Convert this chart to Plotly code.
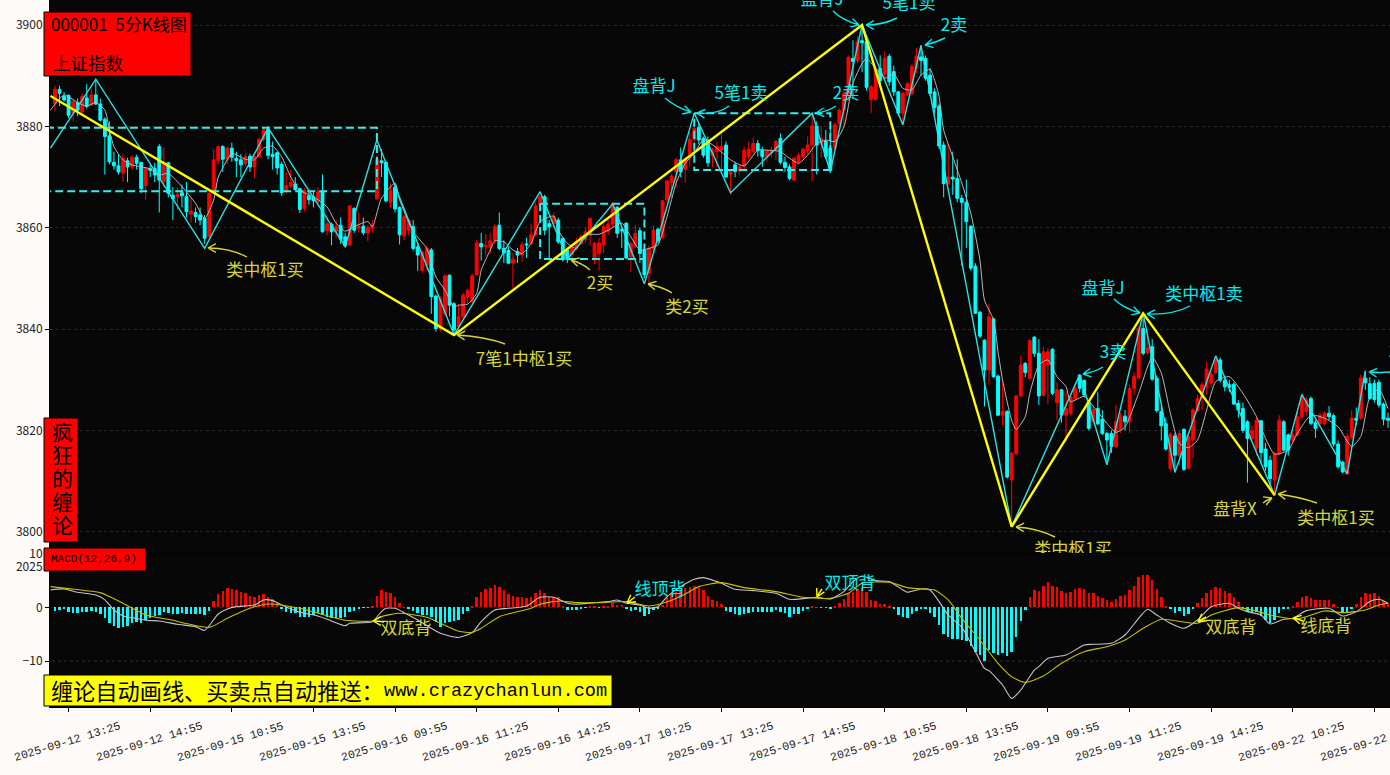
import math
import plotly.graph_objects as go
from plotly.subplots import make_subplots

TITLE_CODE = "000001\u00a0\u00a05分K线图"
TITLE_NAME = "上证指数"
SIDE_LABEL = ["疯", "狂", "的", "缠", "论"]
MACD_LABEL = "MACD(12,26,9)"
PROMO_CN = "缠论自动画线、买卖点自动推送："
PROMO_URL = "www.crazychanlun.com"

TICK_LABELS = ["2025-09-12 13:25","2025-09-12 14:55","2025-09-15 10:55","2025-09-15 13:55","2025-09-16 09:55",
               "2025-09-16 11:25","2025-09-16 14:25","2025-09-17 10:25","2025-09-17 13:25","2025-09-17 14:55",
               "2025-09-18 10:55","2025-09-18 13:55","2025-09-19 09:55","2025-09-19 11:25","2025-09-19 14:25",
               "2025-09-22 10:25","2025-09-22 13:25"]
TICK_BARS = [3,21,39,57,75,93,111,129,147,165,183,201,219,237,255,273,291]

open_ = [
3884.5,3887.3,3885.9,3886.1,3882.7,3884.7,3882.9,3885.6,3884.2,3886.2,
3884.4,3881.4,3878.1,3872.9,3872.2,3870.8,3873.2,3872.0,3873.9,3872.9,
3868.3,3871.7,3871.7,3876.0,3869.1,3872.8,3866.4,3866.1,3866.9,3866.1,
3862.7,3863.0,3862.5,3861.8,3858.2,3867.1,3873.2,3876.0,3873.5,3875.7,
3873.7,3873.4,3872.7,3874.1,3872.0,3874.0,3877.4,3879.4,3874.5,3874.8,
3872.5,3867.3,3868.2,3868.6,3867.7,3863.8,3866.3,3866.1,3865.1,3867.1,
3859.4,3860.7,3859.2,3860.5,3858.2,3856.6,3863.8,3859.9,3860.3,3858.9,
3859.9,3865.7,3873.2,3872.9,3865.0,3868.0,3864.0,3858.4,3859.5,3860.2,
3856.2,3851.6,3852.6,3855.6,3846.5,3840.0,3843.0,3850.6,3845.0,3840.5,
3842.4,3846.4,3845.4,3850.7,3856.9,3856.3,3856.1,3857.5,3860.5,3855.9,
3855.5,3853.0,3855.3,3854.6,3856.8,3856.9,3858.6,3864.5,3866.1,3860.8,
3860.8,3861.5,3857.9,3855.6,3854.6,3855.9,3856.9,3857.6,3858.5,3853.6,
3854.9,3856.6,3859.2,3860.7,3864.0,3859.6,3860.9,3854.2,3856.4,3859.4,
3855.6,3851.0,3855.9,3859.7,3858.1,3865.5,3868.9,3871.0,3873.4,3871.5,
3874.5,3877.4,3879.8,3877.6,3877.3,3874.3,3875.0,3875.3,3876.3,3870.5,
3872.4,3871.2,3872.2,3874.0,3875.0,3876.6,3875.3,3874.0,3874.8,3875.3,
3877.6,3872.9,3872.0,3869.4,3873.0,3874.0,3875.2,3876.3,3880.0,3876.5,
3877.1,3875.7,3875.7,3880.5,3883.2,3886.5,3893.4,3893.0,3896.9,3896.7,
3885.3,3885.3,3891.4,3890.3,3893.8,3890.8,3886.8,3882.6,3886.3,3886.5,
3891.4,3893.7,3893.4,3890.1,3886.8,3884.0,3876.3,3868.7,3870.0,3869.7,
3865.8,3865.0,3860.3,3852.4,3843.3,3837.8,3831.9,3842.0,3830.7,3823.0,
3823.7,3810.2,3815.4,3826.8,3833.2,3830.3,3838.4,3835.2,3826.9,3832.9,
3836.0,3825.5,3828.0,3823.0,3823.4,3826.3,3830.9,3829.9,3825.6,3821.7,
3824.3,3822.2,3819.4,3819.4,3816.8,3820.1,3822.8,3821.7,3828.3,3830.3,
3840.1,3835.3,3836.5,3830.3,3823.7,3821.3,3812.5,3818.9,3815.1,3820.2,
3812.5,3818.1,3823.9,3826.3,3828.6,3829.3,3831.4,3833.9,3829.9,3829.0,
3829.1,3825.3,3824.3,3821.7,3818.4,3816.5,3821.9,3816.3,3814.1,3810.2,
3815.4,3821.7,3819.1,3818.0,3819.1,3822.7,3823.7,3826.3,3821.5,3821.3,
3821.3,3823.4,3822.9,3817.3,3813.7,3811.4,3818.6,3822.4,3822.4,3830.3,
3829.2,3829.3,3829.5,3825.2,3822.4]
high = [
3888.0,3888.0,3886.8,3886.3,3885.2,3885.5,3886.5,3888.3,3887.4,3889.3,
3885.5,3881.8,3881.0,3875.0,3874.5,3874.5,3873.8,3874.3,3874.4,3873.0,
3872.0,3872.5,3872.8,3876.5,3875.8,3873.0,3868.0,3868.0,3868.5,3869.0,
3866.0,3864.0,3864.0,3862.5,3867.2,3875.5,3876.2,3876.3,3876.0,3876.8,
3875.0,3874.5,3874.7,3874.6,3874.5,3877.8,3880.0,3880.0,3877.0,3875.0,
3873.0,3871.0,3871.5,3870.0,3867.9,3867.8,3867.5,3867.0,3868.0,3870.5,
3862.5,3861.0,3861.5,3862.0,3859.0,3864.4,3864.0,3863.0,3862.0,3860.5,
3861.5,3874.3,3875.5,3873.0,3868.8,3868.7,3864.2,3862.5,3861.8,3861.5,
3857.0,3855.5,3856.5,3856.0,3846.8,3846.5,3850.9,3850.8,3845.3,3845.0,
3847.2,3848.0,3851.0,3857.6,3859.0,3858.8,3859.0,3860.8,3863.0,3857.5,
3856.2,3855.0,3856.0,3857.2,3858.0,3860.8,3865.0,3866.5,3866.5,3861.5,
3863.0,3862.0,3858.0,3856.0,3856.5,3858.0,3858.8,3860.0,3862.0,3857.2,
3858.0,3860.8,3861.5,3865.0,3864.3,3860.0,3861.0,3857.2,3860.5,3860.0,
3856.0,3856.5,3860.5,3860.0,3865.5,3869.5,3870.6,3873.8,3875.8,3874.0,
3879.0,3881.0,3880.8,3878.0,3878.0,3875.8,3877.0,3878.5,3877.0,3871.5,
3873.0,3872.5,3876.0,3877.0,3877.8,3877.3,3876.0,3875.5,3876.0,3877.3,
3878.6,3874.0,3872.5,3874.0,3874.8,3875.8,3878.0,3882.4,3881.0,3880.0,
3879.3,3880.0,3880.8,3883.5,3887.0,3894.0,3897.0,3897.8,3899.5,3898.0,
3888.2,3892.0,3894.0,3894.8,3894.3,3892.0,3887.0,3887.0,3888.8,3892.3,
3895.5,3895.8,3894.0,3891.5,3887.5,3884.5,3877.0,3876.5,3875.0,3873.5,
3866.5,3869.5,3860.5,3853.0,3843.6,3838.0,3845.0,3842.2,3831.0,3830.0,
3824.0,3815.7,3827.0,3834.7,3833.5,3838.0,3838.6,3838.0,3836.5,3836.2,
3836.2,3829.5,3828.2,3827.7,3827.0,3829.0,3831.0,3830.0,3826.0,3825.0,
3827.5,3824.0,3819.7,3820.0,3825.0,3823.5,3824.0,3829.0,3831.5,3840.5,
3842.0,3840.0,3838.0,3830.8,3825.0,3822.5,3819.6,3819.5,3819.8,3820.4,
3819.0,3824.4,3827.0,3829.5,3833.5,3831.5,3834.6,3834.4,3830.5,3830.0,
3829.5,3826.0,3825.5,3822.0,3821.0,3822.5,3822.0,3817.5,3815.0,3815.8,
3823.0,3822.0,3819.4,3820.0,3823.5,3827.0,3826.5,3826.7,3822.0,3823.5,
3823.8,3824.8,3823.3,3818.0,3814.0,3819.5,3824.0,3824.5,3831.0,3831.5,
3830.5,3830.0,3830.0,3825.5,3823.5]
low = [
3883.0,3884.0,3884.9,3881.6,3881.0,3882.0,3882.6,3883.5,3884.0,3884.2,
3881.0,3870.5,3872.5,3871.5,3870.5,3869.0,3869.0,3871.5,3871.5,3866.8,
3865.5,3870.0,3869.0,3863.0,3868.0,3866.0,3861.5,3863.5,3864.0,3862.0,
3861.0,3861.0,3860.5,3856.8,3858.0,3866.9,3872.5,3871.0,3872.5,3873.0,
3870.0,3870.0,3872.0,3871.0,3869.8,3873.8,3877.0,3873.5,3871.5,3870.5,
3866.3,3866.7,3867.8,3867.3,3862.9,3863.2,3864.5,3864.0,3864.5,3859.0,
3858.5,3856.5,3858.0,3856.8,3856.0,3856.4,3859.0,3859.0,3858.5,3857.3,
3859.0,3865.5,3870.0,3865.0,3864.0,3863.0,3856.7,3857.5,3858.5,3855.5,
3851.5,3851.0,3851.5,3843.0,3839.5,3839.5,3842.5,3842.5,3839.0,3839.5,
3842.0,3845.0,3845.2,3850.5,3853.5,3854.5,3855.0,3856.8,3855.5,3853.0,
3852.8,3848.0,3853.0,3853.2,3854.0,3856.5,3858.2,3863.0,3858.5,3853.5,
3860.0,3856.8,3853.3,3853.0,3853.5,3855.5,3856.5,3857.0,3856.5,3852.8,
3851.5,3855.0,3858.5,3860.0,3858.0,3856.0,3853.8,3851.3,3856.0,3853.0,
3850.0,3848.8,3855.3,3857.0,3857.8,3865.0,3866.0,3868.0,3870.0,3868.9,
3872.0,3877.0,3876.5,3873.8,3872.0,3872.0,3872.0,3871.6,3869.8,3866.5,
3870.0,3870.5,3871.5,3873.5,3874.5,3874.0,3872.0,3873.0,3873.8,3873.3,
3872.5,3871.0,3869.4,3869.2,3872.5,3873.5,3874.5,3869.2,3870.5,3873.8,
3873.5,3870.8,3875.0,3880.0,3880.0,3885.0,3885.5,3892.5,3890.7,3887.0,
3882.6,3885.0,3888.0,3889.0,3888.0,3886.0,3882.0,3880.5,3886.0,3886.0,
3890.5,3890.0,3889.0,3886.0,3882.5,3875.5,3866.0,3868.5,3866.5,3865.0,
3852.5,3856.0,3851.5,3843.0,3838.2,3824.7,3829.0,3830.3,3822.8,3821.0,
3810.5,3801.3,3815.0,3826.5,3830.5,3830.0,3834.5,3825.0,3826.7,3825.2,
3827.0,3822.0,3821.5,3817.7,3823.0,3826.0,3827.5,3826.5,3820.0,3821.0,
3821.0,3819.1,3813.5,3815.5,3816.5,3819.5,3820.0,3819.5,3827.0,3830.0,
3834.8,3835.0,3829.8,3823.5,3818.0,3816.0,3812.0,3812.0,3813.0,3812.0,
3812.3,3814.5,3823.5,3824.0,3827.0,3828.5,3831.0,3829.5,3827.7,3827.5,
3825.0,3822.5,3819.5,3809.7,3818.0,3815.0,3813.5,3812.0,3809.0,3807.5,
3815.0,3815.8,3815.0,3817.5,3818.8,3822.0,3823.0,3821.0,3818.5,3821.0,
3821.0,3822.0,3816.8,3812.5,3811.5,3811.2,3818.2,3821.0,3822.0,3828.0,
3826.0,3825.5,3824.5,3821.0,3820.5]
close = [
3887.3,3886.5,3885.2,3882.2,3884.9,3883.2,3885.9,3883.9,3886.2,3884.4,
3881.2,3878.0,3873.0,3872.2,3871.0,3873.7,3872.0,3873.9,3872.7,3867.7,
3871.7,3871.3,3870.4,3869.4,3872.9,3866.8,3865.7,3866.6,3866.3,3863.2,
3863.3,3862.2,3861.5,3857.9,3866.8,3873.4,3876.0,3873.5,3875.7,3873.9,
3873.2,3872.4,3874.0,3872.0,3874.0,3877.4,3879.3,3874.3,3874.0,3871.8,
3866.9,3868.3,3868.9,3867.5,3863.6,3867.3,3865.5,3865.3,3867.1,3859.2,
3860.8,3859.2,3860.2,3857.7,3856.4,3864.3,3859.5,3860.2,3859.0,3860.0,
3860.5,3873.5,3872.8,3865.3,3867.4,3863.7,3858.6,3862.2,3861.5,3855.9,
3854.6,3855.1,3855.9,3846.4,3840.1,3846.0,3850.5,3844.7,3839.8,3842.4,
3846.7,3847.6,3850.5,3857.0,3856.2,3856.5,3857.4,3860.2,3855.9,3855.0,
3853.0,3853.8,3854.6,3856.6,3856.6,3858.6,3864.3,3866.1,3859.5,3860.2,
3862.2,3857.2,3853.7,3853.7,3855.9,3857.2,3858.2,3859.2,3861.8,3856.9,
3857.0,3860.2,3860.7,3864.8,3858.9,3859.4,3854.0,3856.9,3858.9,3854.9,
3850.7,3855.9,3859.5,3857.4,3865.3,3869.2,3870.2,3873.4,3871.0,3873.5,
3877.4,3879.6,3877.3,3874.3,3872.8,3875.3,3876.0,3876.0,3870.0,3871.1,
3871.1,3872.0,3875.3,3875.5,3876.6,3875.2,3874.0,3875.1,3875.3,3877.0,
3872.9,3871.9,3869.7,3873.7,3874.3,3875.5,3876.3,3880.1,3876.3,3877.6,
3874.0,3871.3,3880.3,3883.2,3886.5,3893.6,3892.8,3896.7,3896.5,3887.7,
3887.8,3891.4,3889.0,3893.4,3888.8,3886.8,3882.6,3886.5,3888.4,3891.8,
3893.9,3893.0,3889.5,3886.5,3883.7,3876.1,3868.7,3870.0,3869.6,3865.8,
3865.0,3861.2,3852.0,3843.1,3838.6,3831.9,3842.4,3830.6,3823.0,3823.7,
3810.8,3815.5,3826.8,3832.9,3831.4,3837.7,3835.2,3826.8,3835.5,3835.5,
3827.3,3828.0,3823.0,3824.3,3826.6,3828.3,3828.3,3827.0,3820.4,3824.1,
3821.3,3819.4,3818.1,3816.8,3821.7,3822.7,3821.7,3828.2,3830.6,3840.1,
3835.2,3836.3,3830.1,3823.9,3820.9,3816.3,3819.3,3815.1,3819.4,3812.3,
3818.8,3824.0,3826.3,3829.0,3832.1,3831.1,3833.9,3829.9,3828.6,3828.5,
3825.2,3824.0,3820.0,3818.4,3820.0,3822.0,3815.6,3812.8,3810.5,3815.5,
3822.0,3816.1,3816.1,3819.1,3822.7,3826.6,3826.0,3821.4,3820.4,3823.0,
3823.4,3822.7,3817.3,3812.8,3811.8,3818.8,3822.4,3822.0,3830.3,3829.4,
3826.3,3826.1,3825.0,3822.2,3822.0]

ma_bars = [-1,2,5,7,9,11,12,13,15,17,21,23,25,28,31,33,35,36,38,39,42,44,46,48,50,52,54,57,60,62,64,66,69,70,72,75,76,79,82,84,86,88,89,
91,93,94,96,97,99,101,103,105,107,110,111,113,115,117,120,122,125,127,129,132,133,135,137,139,141,143,146,149,152,155,157,160,162,164,166,168,170,172,174,176,178,179,181,183,185,187,189,191,
193,194,195,196,198,200,202,204,205,207,208,209,211,212,214,215,217,219,221,223,224,227,229,232,234,236,239,242,244,246,248,250,252,254,256,259,262,265,267,269,272,274,277,280,283,286,288,290,292,294]
ma_vals = [3883.2,3886.2,3884.7,3884,3884.7,3883.2,3879.3,3876,3873.4,3872.4,3871.6,3870.4,3870.7,3868.1,3864.8,3861.8,3865.5,3870,3873.4,3874.7,3873.5,3873.4,3875.7,3876.1,3874,3870,3867.4,3866.1,3864.1,3860.9,3859.3,3860.2,3861.2,3860.2,3865.8,3868.8,3865.5,3859.2,3855.9,3850.3,3847.7,3844.4,3844.7,
3844.9,3847,3851.6,3855.6,3857.4,3857.2,3855.6,3854.9,3856.9,3861.2,3862.3,3859.5,3856.9,3855.9,3858.6,3858.7,3859.5,3860.9,3858.2,3855.6,3856.2,3856.6,3862.2,3868.8,3872.7,3874.7,3877.3,3875.7,3873.4,3872.2,3875.3,3875.3,3875,3873.7,3872.7,3874.3,3876.6,3877.3,3877,3879.9,3888.5,3892.4,3893.4,3891.4,3889.5,3890.3,3887.5,3887.2,3890.1,
3891.25,3889.1,3885.9,3879.3,3874,3868.8,3862.8,3853.6,3845.7,3841.8,3835.5,3829.9,3822,3820.2,3822.7,3827.3,3832.9,3833.9,3830.6,3828.6,3825.7,3826.7,3824.7,3821.4,3819.6,3820.7,3827.3,3834.4,3831.3,3823.4,3817.4,3816.6,3818.1,3824,3829.6,3830.6,3827.3,3822.7,3818.4,3815.3,3816.1,3819.4,3823,3822.4,3820.7,3816.8,3818.8,3826.6,3828.1,3824.3]

stroke_bars = [-1,9,33,47,64,71,88,107,113,123,130,141,149,167,171,178,187,191,211,226,232,240,247,256,269,275,285,289]
stroke_vals = [3875.7,3889.3,3855.9,3879.7,3856.3,3877.3,3838.8,3867.1,3853.8,3864.7,3848.9,3882.6,3866.9,3882.6,3871.0,3900,3880.3,3896,3801,3831,3813.2,3843.1,3811.7,3834.7,3807.2,3827.1,3811.4,3831.8]
segment_bars = [-1,88,178,211,240,269]
segment_vals = [3886,3838.8,3900,3801,3843.1,3807.2]

box_bars = [(-2,71),(107,130),(141,171)]
box_vals = [(3867.2,3879.7),(3853.8,3864.7),(3871.4,3882.6)]

hist = [
-.62,-.43,-.31,-.87,-.99,-1.12,-.81,-.81,-.62,-.81,-1.24,-1.93,-2.86,-3.42,-3.79,-3.6,-3.48,-2.86,-2.67,-2.86,
-2.36,-2.05,-1.61,-1.43,-.93,-1.12,-1.24,-1.24,-1.12,-1.24,-1.24,-1.24,-1.24,-1.43,-.62,1.18,2.48,3.11,3.6,3.42,
3.23,2.92,2.73,2.17,1.99,2.3,2.48,1.99,1.55,.75,-.37,-.81,-.99,-1.12,-1.86,-1.74,-1.74,-1.43,-1.12,-1.43,
-1.86,-2.05,-2.05,-2.05,-1.86,-.81,-.62,-.25,-.03,-.03,.19,2.17,3.23,2.86,2.73,1.99,.87,.02,-.19,-.62,
-.99,-1.43,-1.49,-1.74,-2.8,-3.73,-2.86,-2.67,-2.48,-2.36,-1.24,-.62,.31,1.99,2.8,3.35,3.66,4.16,3.73,3.23,
2.42,2.11,1.93,1.93,1.74,1.93,2.61,3.23,2.61,1.86,1.86,1.86,.12,-.5,-.5,-.5,-.37,-.12,.31,.12,
-.06,.12,.19,.87,.43,.43,-.19,-.62,-.5,-.87,-1.61,-1.24,-.56,-.19,.43,1.99,2.61,2.92,3.23,3.66,
3.85,3.98,3.66,3.23,2.11,1.37,1.18,.62,-.62,-.93,-1.24,-1.37,-1.24,-.99,-.81,-.81,-.81,-.81,-.81,-.5,
-.81,-1.12,-1.8,-1.24,-1.24,-.75,-.37,.19,.03,-.12,-.06,-.19,.19,.75,1.55,2.61,2.92,3.35,3.66,2.8,
1.37,1.18,.62,.62,.19,-.37,-1.43,-1.86,-1.93,-1.24,-.62,-.3,-.37,-.99,-1.74,-3.29,-4.97,-5.59,-5.9,-5.96,
-6.09,-6.21,-7.2,-8.26,-8.88,-9.94,-7.95,-8.57,-8.88,-8.45,-9.01,-8.26,-5.47,-2.55,-.43,1.99,3.23,3.11,3.98,4.72,
3.98,3.79,3.04,2.67,2.92,3.35,3.6,3.42,2.67,2.61,2.11,1.74,1.37,.93,1.49,2.11,2.3,3.23,3.98,5.65,
6.02,6.02,5.09,3.42,1.93,.19,-.37,-1.12,-.68,-1.61,-1.24,-.31,.75,1.74,2.67,3.23,3.79,3.6,3.04,2.67,
1.86,.99,-.19,-.81,-.99,-.93,-1.61,-2.36,-2.98,-2.36,-1.12,-.37,-.19,.19,.99,1.86,2.11,1.68,1.37,1.37,
1.37,1.37,.62,.03,-.87,-.87,-.19,.62,1.99,2.61,2.48,2.61,2.11,1.24,.75]

dif_bars = [-1,2,5,9,11,13,15,17,20,23,27,31,33,36,38,40,44,46,48,50,54,58,61,64,65,70,72,73,75,77,80,85,89,
92,94,97,100,104,107,110,113,115,119,122,124,126,129,131,133,135,138,141,143,146,147,150,154,159,162,165,168,171,174,176,178,181,184,187,188,191,
193,195,197,200,203,205,206,209,211,213,216,217,219,223,227,229,233,236,239,241,243,246,249,252,255,259,261,263,266,268,271,273,276,281,284,287,290,292,294]
dif_vals = [3.23,3.42,2.8,2.29,1.37,-.5,-1.61,-1.93,-2.42,-2.55,-3.17,-3.6,-4.29,-1.24,-.31,.12,.43,1.37,1.24,.43,-.93,-1.61,-2.55,-3.42,-2.98,-2.67,-.81,-.19,-.19,-1,-2.36,-4.84,-5.62,
-4.72,-2.67,-.5,-.19,.25,1.86,1.86,.75,.56,.87,1.06,1.37,.75,.43,-.19,.12,1.99,3.85,5.22,5.53,4.78,4.47,3.35,3.11,2.61,1.49,1.61,1.86,1.55,2.92,4.78,5.84,4.97,4.78,3.23,2.8,3.42,
3.23,1.06,-1.43,-3.73,-8.26,-11.37,-11.8,-14.47,-16.96,-15.4,-11.68,-11.06,-9.5,-8.88,-7.02,-6.89,-6.71,-5.16,-2.05,-.37,-1.43,-2.98,-3.91,-2.36,.12,.75,-.19,-.81,-1.43,-3.11,-2.24,-2.05,-.62,-.19,-1.61,-.81,1.06,1.49,.75]
dea_bars = [-1,3,10,12,16,20,25,34,38,43,47,54,64,70,72,76,82,89,
92,94,98,105,107,111,115,120,126,131,134,138,142,147,152,159,165,171,175,178,184,188,191,
194,197,200,204,208,211,214,218,222,227,232,236,240,244,246,252,255,261,264,268,274,280,284,289,292,294]
dea_vals = [3.85,3.48,2.73,1.99,.31,-1.43,-2.24,-3.73,-2.05,-.19,.62,-.19,-2.42,-2.55,-1.74,-1.12,-1.86,-4.45,
-4.66,-3.91,-1.74,-.19,.56,1.18,.87,.87,1.06,.25,.75,1.99,3.85,4.6,3.66,2.92,1.86,1.68,2.61,4.47,4.66,3.66,3.45,
3.23,1.37,-2.05,-6.09,-10.43,-12.92,-13.98,-12.8,-10.43,-8.26,-7.33,-6.09,-3.91,-2.24,-2.36,-2.98,-1.43,-.06,-.5,-1.43,-2.17,-.68,-.99,-.5,.43,.75]

CYAN = "#00EDED"; YEL = "#D6D63A"
main_labels = [
("类中枢1买",265,271.5,YEL),("2买",600,284.5,YEL),("类2买",687,308.5,YEL),("7笔1中枢1买",524,360.5,YEL),
("盘背J",654,88,CYAN),("5笔1卖",741,95,CYAN),("2卖",846,95,CYAN),("盘背J",822,1,CYAN),("5笔1卖",909,5,CYAN),("2卖",954,27,CYAN),
("盘背J",1103,289.5,CYAN),("类中枢1卖",1204,295.5,CYAN),("3卖",1113,354,CYAN),("3卖",1402,354,CYAN),
("盘背X",1235,511,YEL),("类中枢1买",1336,519.5,YEL),("类中枢1买",1073,551,YEL)]
macd_labels = [("双底背",406,630,YEL),("线顶背",660,591,CYAN),("双顶背",850,585,CYAN),("双底背",1231,629,YEL),("线底背",1326,628,YEL)]
arrows = [
(247,257,230,248,208,248,YEL),(665,98,677,108,691,112,CYAN),(729,106,717,115,697,113,CYAN),(836,106,827,112,816,113,CYAN),
(833,11,842,20,859,25,CYAN),(897,18,883,25,866,25,CYAN),(945,38,935,43,925,45,CYAN),(590,270,582,263,571,260,YEL),
(672,293,663,287,648,284,YEL),(505,344,487,337,457,335,YEL),(1114,299,1123,308,1140,313,CYAN),(1190,306,1173,315,1147,314,CYAN),
(1103,367,1095,372,1083,374,CYAN),(1055,537,1037,528,1016,527,YEL),(1263,503,1267,500,1272,498,YEL),(1317,503,1300,497,1278,494,YEL),
(1390,372,1380,373,1369,372,CYAN),
(384,622,379,621,373,621,"#FFFF00"),(635,597,631,600,627,603,"#FFFF00"),(822,589,819,593,817,597,"#FFFF00"),
(1206,617,1202,619,1198,622,"#FFFF00"),(1303,621,1298,619,1293,618,"#FFFF00")]

PLOT_L, PLOT_R, PLOT_B = 50, 1390, 707
def PX(x): return (x - PLOT_L) / (PLOT_R - PLOT_L)
def PY(y): return (PLOT_B - y) / PLOT_B
def bar_of(x): return (x - 55) / 4.534
def price_of(y): return 3900 - (y - 25) / 5.067
def macd_of(y): return (607.3 - y) / 5.37

fig = make_subplots(rows=2, cols=1, shared_xaxes=False, vertical_spacing=0, row_heights=[553, 154])
n = len(close)
idx = list(range(n))

fig.add_trace(go.Candlestick(x=idx, open=open_, high=high, low=low, close=close,
    increasing=dict(line=dict(color="#FF0000", width=1), fillcolor="#FF0000"),
    decreasing=dict(line=dict(color="#00FFFF", width=1), fillcolor="#00FFFF"),
    whiskerwidth=0, showlegend=False, hoverinfo="skip"), row=1, col=1)
fig.add_trace(go.Scatter(x=ma_bars, y=ma_vals, mode="lines", line=dict(color="#B8B8B8", width=1, shape="spline", smoothing=0.6), showlegend=False, hoverinfo="skip"), row=1, col=1)
for (a, b), (lo, hi) in zip(box_bars, box_vals):
    fig.add_trace(go.Scatter(x=[a, b, b, a, a], y=[hi, hi, lo, lo, hi], mode="lines",
        line=dict(color="#33EEEE", width=2, dash="8px,4px"), showlegend=False, hoverinfo="skip"), row=1, col=1)
fig.add_trace(go.Scatter(x=stroke_bars, y=stroke_vals, mode="lines", line=dict(color="#2EE0E0", width=1.4), showlegend=False, hoverinfo="skip"), row=1, col=1)
fig.add_trace(go.Scatter(x=segment_bars, y=segment_vals, mode="lines", line=dict(color="#FFFF00", width=2.4), showlegend=False, hoverinfo="skip"), row=1, col=1)
for t, x, y, c in main_labels:
    fig.add_trace(go.Scatter(x=[bar_of(x)], y=[price_of(y)], mode="text", text=[t], textposition="middle center",
        textfont=dict(family="Noto Sans CJK SC", size=17, color=c), showlegend=False, hoverinfo="skip"), row=1, col=1)

fig.add_trace(go.Bar(x=idx, y=hist, width=0.55, marker=dict(color=["#FF0000" if v > 0 else "#00FFFF" for v in hist], line=dict(width=0)),
    showlegend=False, hoverinfo="skip"), row=2, col=1)
fig.add_trace(go.Scatter(x=dif_bars, y=dif_vals, mode="lines", line=dict(color="#C4C4C4", width=1.1, shape="spline", smoothing=0.6), showlegend=False, hoverinfo="skip"), row=2, col=1)
fig.add_trace(go.Scatter(x=dea_bars, y=dea_vals, mode="lines", line=dict(color="#C8C000", width=1.1, shape="spline", smoothing=0.6), showlegend=False, hoverinfo="skip"), row=2, col=1)
for t, x, y, c in macd_labels:
    fig.add_trace(go.Scatter(x=[bar_of(x)], y=[macd_of(y)], mode="text", text=[t], textposition="middle center",
        textfont=dict(family="Noto Sans CJK SC", size=17, color=c), showlegend=False, hoverinfo="skip"), row=2, col=1)

shapes = []
for x0, y0, cx, cy, x1, y1, c in arrows:
    path = f"M {PX(x0)} {PY(y0)} Q {PX(cx)} {PY(cy)} {PX(x1)} {PY(y1)}"
    ang = math.atan2(y1 - cy, x1 - cx)
    for d in (0.5, -0.5):
        hx = x1 - 9 * math.cos(ang + d); hy = y1 - 9 * math.sin(ang + d)
        path += f" M {PX(hx)} {PY(hy)} L {PX(x1)} {PY(y1)}"
    shapes.append(dict(type="path", path=path, xref="paper", yref="paper", line=dict(color=c, width=1.4), layer="above"))
def rect(x0, y0, x1, y1, fill):
    shapes.append(dict(type="rect", xref="paper", yref="paper", x0=PX(x0), x1=PX(x1), y0=PY(y1), y1=PY(y0),
                       fillcolor=fill, line=dict(color="#000000", width=1), layer="above"))
rect(44, 12, 191, 76, "#FF0000")
rect(44, 418, 78, 542, "#FF0000")
rect(44, 548, 146, 571, "#FF0000")
rect(44, 675, 612, 706, "#FFFF00")
for lv in (0, -10):
    shapes.append(dict(type="line", xref="x2", yref="y2", x0=-2, x1=296, y0=lv, y1=lv, line=dict(color="#2E2E2E", width=1, dash="dot"), layer="below"))

ann = []
def label(text, x, y, size, family="Noto Sans CJK SC", color="#000000", xanchor="left", angle=0):
    ann.append(dict(text=text, xref="paper", yref="paper", x=PX(x), y=PY(y), xanchor=xanchor, yanchor="middle",
                    showarrow=False, textangle=angle, font=dict(family=family, size=size, color=color)))
label(TITLE_CODE, 49, 23.5, 17)
label(TITLE_NAME, 51, 62, 17.5)
for ch, yy in zip(SIDE_LABEL, [431, 454, 477, 501, 524]):
    label(ch, 62, yy, 21, xanchor="center")
label(MACD_LABEL, 49, 559, 11, family="Liberation Mono")
label(PROMO_CN, 49, 690, 22.2)
label(PROMO_URL, 382, 691, 18.6, family="Liberation Mono")
for t, b in zip(TICK_LABELS, TICK_BARS):
    label(t, 55 + 4.534 * b - 1, 741, 11.5, family="Liberation Mono", color="#222222", xanchor="center", angle=-17)

rng = [bar_of(50), bar_of(1390)]
fig.update_layout(width=1390, height=775, margin=dict(l=50, r=0, t=0, b=68), paper_bgcolor="#FEFAF8", plot_bgcolor="#070707",
    shapes=shapes, annotations=ann, bargap=0, boxgap=0.1, barmode="overlay", dragmode=False, showlegend=False)
axis_font = dict(family="Noto Sans CJK SC", size=12, color="#222222")
fig.update_xaxes(automargin=False, range=rng, showgrid=False, zeroline=False, rangeslider_visible=False, showticklabels=False, tickvals=TICK_BARS,
                 ticks="inside", ticklen=4, tickcolor="#000000", showline=True, linecolor="#000000", row=1, col=1)
fig.update_xaxes(automargin=False, range=rng, showgrid=False, zeroline=False, showticklabels=False, tickvals=TICK_BARS,
                 ticks="outside", ticklen=4, tickcolor="#000000", showline=True, linecolor="#000000", row=2, col=1)
fig.update_yaxes(automargin=False, range=[price_of(553), price_of(0)], tickvals=[3800,3820,3840,3860,3880,3900], showgrid=True, griddash="dot", gridcolor="#2A2A2A",
                 zeroline=False, ticks="outside", ticklen=4, tickcolor="#000000", tickfont=axis_font, showline=True, linecolor="#000000", row=1, col=1)
fig.update_yaxes(automargin=False, range=[macd_of(707), macd_of(553)], tickvals=[-10,0,7.5,10], ticktext=["−10","0","2025","10"], showgrid=False,
                 zeroline=False, ticks="outside", ticklen=4, tickcolor="#000000", tickfont=axis_font, showline=True, linecolor="#000000", row=2, col=1)

fig.write_html("out.html", config={"displayModeBar": False}, post_script="document.body.style.margin='0';document.body.style.overflow='hidden';")
